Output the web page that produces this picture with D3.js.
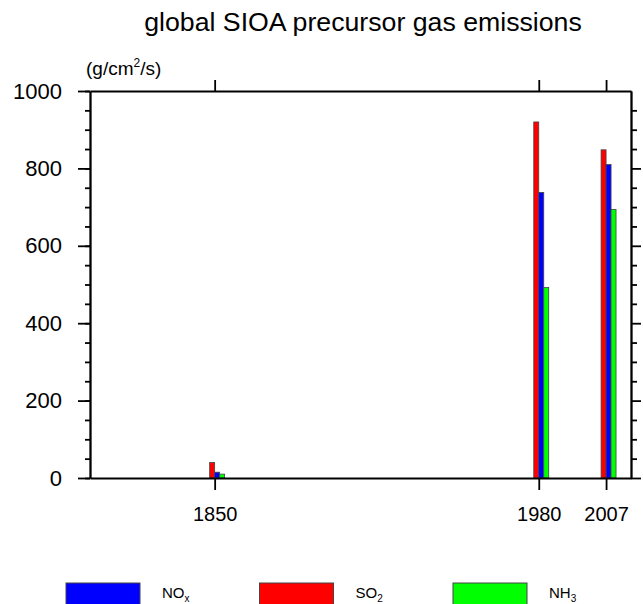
<!DOCTYPE html>
<html>
<head>
<meta charset="utf-8">
<script src="https://cdn.jsdelivr.net/npm/d3@7"></script>
<style>
  body { margin: 0; background: #fff; }
  svg { font-family: "Liberation Sans", Arial, Helvetica, sans-serif; }
  .axis path, .axis line { stroke: #000; stroke-width: 1.8; }
</style>
</head>
<body>
<div id="chart"></div>
<script>
// data
const years = [1850, 1980, 2007];
const so2 = [40, 920, 848];
const nox = [15, 738, 810];
const nh3 = [10, 492, 694];
const yTicks = [0, 200, 400, 600, 800, 1000];

// bar series, left to right inside each year group
const series = [
  { name: "SO2", values: so2, color: "#ff0000", offset: -2 },
  { name: "NOx", values: nox, color: "#0000ff", offset: 0 },
  { name: "NH3", values: nh3, color: "#00ff00", offset: 2 }
];
const legendItems = [
  { base: "NO", sub: "x", color: "#0000ff" },
  { base: "SO", sub: "2", color: "#ff0000" },
  { base: "NH", sub: "3", color: "#00ff00" }
];

const W = 643, H = 604;
const margin = { top: 91, right: 12, bottom: 126, left: 90 };
const width = W - margin.left - margin.right;
const height = H - margin.top - margin.bottom;

const svg = d3.select("#chart").append("svg")
  .attr("width", W)
  .attr("height", H);

const g = svg.append("g")
  .attr("transform", `translate(${margin.left},${margin.top})`);

const x = d3.scaleLinear().domain([1800, 2017]).range([0, width]);
const y = d3.scaleLinear().domain([0, 1000]).range([height, 0]);
const barYears = 2; // each bar is 2 years wide

// bars
series.forEach(s => {
  g.selectAll(null)
    .data(years.map((yr, i) => ({ yr, v: s.values[i] })))
    .enter()
    .append("rect")
    .attr("x", d => x(d.yr + s.offset))
    .attr("width", d => x(d.yr + s.offset + barYears) - x(d.yr + s.offset))
    .attr("y", d => y(d.v))
    .attr("height", d => y(0) - y(d.v))
    .attr("fill", s.color)
    .attr("stroke", "#444")
    .attr("stroke-width", 0.8);
});

const minorY = d3.range(0, 1001, 50);

// left axis
g.append("g").attr("class", "axis")
  .call(d3.axisLeft(y).tickValues(minorY).tickSize(5).tickFormat("").tickSizeOuter(0));
const left = g.append("g").attr("class", "axis")
  .call(d3.axisLeft(y).tickValues(yTicks).tickSize(12).tickSizeOuter(0)
    .tickPadding(16).tickFormat(d3.format("d")));
left.selectAll("text").style("font-size", "22px").attr("fill", "#000");

// right axis
g.append("g").attr("class", "axis")
  .attr("transform", `translate(${width},0)`)
  .call(d3.axisRight(y).tickValues(minorY.filter(v => v % 200 !== 0 && v < 1000)).tickSize(6).tickFormat("").tickSizeOuter(0));
g.append("g").attr("class", "axis")
  .attr("transform", `translate(${width},0)`)
  .call(d3.axisRight(y).tickValues(yTicks.filter(v => v < 1000)).tickSize(10).tickFormat("").tickSizeOuter(0));

// bottom axis
const bottom = g.append("g").attr("class", "axis")
  .attr("transform", `translate(0,${height})`)
  .call(d3.axisBottom(x).tickValues(years).tickSize(12).tickSizeOuter(0).tickFormat(d3.format("d")).tickPadding(17));
bottom.selectAll("text").style("font-size", "20px").attr("fill", "#000");

// top axis
g.append("g").attr("class", "axis")
  .call(d3.axisTop(x).tickValues(years).tickSize(11).tickSizeOuter(0).tickFormat(""));

// title
svg.append("text")
  .attr("x", 363)
  .attr("y", 31)
  .attr("text-anchor", "middle")
  .style("font-size", "26.7px")
  .text("global SIOA precursor gas emissions");

// units label
const unit = svg.append("text")
  .attr("x", 86)
  .attr("y", 75)
  .style("font-size", "19px");
unit.append("tspan").text("(g/cm");
unit.append("tspan").attr("dy", -8).style("font-size", "12px").text("2");
unit.append("tspan").attr("dy", 8).text("/s)");

// legend
const legend = svg.append("g");
legendItems.forEach((d, i) => {
  const lx = 66 + i * 193.5;
  legend.append("rect")
    .attr("x", lx).attr("y", 583)
    .attr("width", 74).attr("height", 24)
    .attr("fill", d.color)
    .attr("stroke", "#444").attr("stroke-width", 1);
  const t = legend.append("text")
    .attr("x", lx + 96).attr("y", 598)
    .style("font-size", "15px");
  t.append("tspan").text(d.base);
  t.append("tspan").attr("dy", 4).style("font-size", "10px").text(d.sub);
});
</script>
</body>
</html>
